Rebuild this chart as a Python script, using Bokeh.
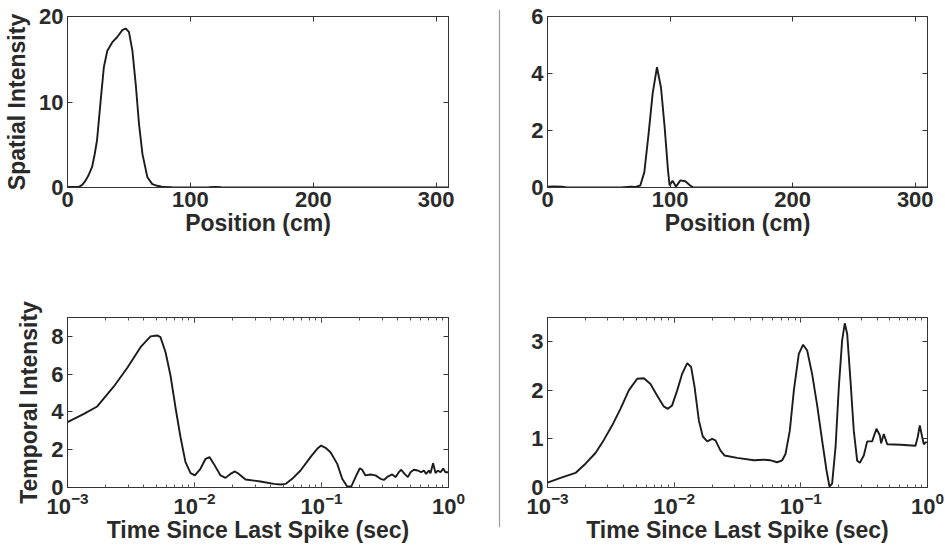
from bokeh.plotting import figure
from bokeh.layouts import row, column
from bokeh.models import Range1d, LinearAxis, LogAxis, FixedTicker, Span, CustomJSTickFormatter
from bokeh.embed import file_html
from bokeh.resources import INLINE

# ---------------- data ----------------
# Top-left: spatial intensity vs position (cm)
pos_a = [0, 5, 9, 12, 14.7, 17, 20, 22, 24, 27, 29.6, 32.4, 36.5, 40.5, 44.6, 47.3,
         50, 52.8, 55.5, 58.2, 61, 65, 69, 73, 75, 78, 85, 100, 115, 120, 125, 150,
         200, 250, 300, 310]
int_a = [0.05, 0.05, 0.05, 0.3, 0.8, 1.4, 2.4, 3.8, 5.5, 10.2, 14.1, 16.0, 17.0, 17.6,
         18.4, 18.6, 18.2, 16.0, 12.1, 7.4, 3.9, 1.2, 0.4, 0.2, 0.15, 0.05, 0.03, 0.02,
         0.03, 0.06, 0.03, 0.02, 0.02, 0.02, 0.02, 0.02]

# Top-right: spatial intensity vs position (cm)
pos_b = [0, 5, 12, 16, 30, 60, 65, 68, 72, 75.7, 79, 82.5, 85.8, 89.3, 92.6, 95.6,
         98.3, 99.6, 102, 104.8, 108.4, 112.4, 116.4, 119, 150, 200, 250, 310]
int_b = [0.03, 0.04, 0.03, 0.0, 0.0, 0.0, 0.02, 0.03, 0.02, 0.07, 0.54, 1.9, 3.3, 4.22,
         3.5, 2.1, 0.6, 0.07, 0.24, 0.03, 0.25, 0.22, 0.07, 0.0, 0.0, 0.0, 0.0, 0.0]

# Bottom-left: temporal intensity vs time since last spike (sec)
lag_c = [0.001, 0.001346, 0.001714, 0.002317, 0.002951, 0.003758, 0.004508, 0.005082,
         0.005395, 0.005916, 0.006471, 0.007079, 0.007762, 0.008492, 0.009311, 0.010069,
         0.011143, 0.012218, 0.013122, 0.014191, 0.016032, 0.017539, 0.019187, 0.020797,
         0.022336, 0.025235, 0.033113, 0.04217, 0.047534, 0.052119, 0.05875, 0.068391,
         0.081846, 0.09247, 0.099312, 0.10765, 0.11776, 0.13305, 0.14555, 0.15922,
         0.1714, 0.18535, 0.20045, 0.20893, 0.22182, 0.24322, 0.26607, 0.29174,
         0.30974, 0.33266, 0.36058, 0.38282, 0.40644, 0.42462, 0.45082, 0.47863,
         0.50234, 0.53333, 0.5728, 0.60954, 0.63973, 0.66681, 0.69984, 0.72111,
         0.75683, 0.79068, 0.82414, 0.86497, 0.90782, 0.94624, 1.0]
int_c = [3.46, 3.9, 4.29, 5.35, 6.33, 7.43, 8.0, 8.05, 7.96, 7.16, 5.93, 4.25, 2.66,
         1.34, 0.76, 0.64, 0.99, 1.52, 1.61, 1.25, 0.64, 0.51, 0.72, 0.85, 0.72, 0.42,
         0.32, 0.19, 0.16, 0.19, 0.46, 0.9, 1.61, 2.05, 2.22, 2.1, 1.87, 1.25, 0.46,
         0.05, 0.05, 0.55, 1.02, 0.94, 0.64, 0.69, 0.64, 0.46, 0.4, 0.58, 0.69, 0.55,
         0.81, 0.94, 0.72, 0.55, 0.81, 0.94, 0.9, 0.81, 0.9, 0.72, 0.9, 0.76, 1.29,
         0.76, 0.9, 0.81, 1.0, 0.81, 0.81]

# Bottom-right: temporal intensity vs time since last spike (sec)
lag_d = [0.001, 0.001268, 0.001663, 0.001995, 0.002393, 0.002786, 0.003243, 0.003767,
         0.004385, 0.005105, 0.005768, 0.006501, 0.007345, 0.008279, 0.008913, 0.009638,
         0.010568, 0.011561, 0.012677, 0.013614, 0.014488, 0.015668, 0.016827, 0.018239,
         0.019953, 0.021184, 0.023227, 0.024946, 0.031405, 0.04256, 0.05105, 0.057677,
         0.065013, 0.071285, 0.075683, 0.081846, 0.088105, 0.096383, 0.10423, 0.1122,
         0.12274, 0.13459, 0.14723, 0.15959, 0.16827, 0.1766, 0.18793, 0.19953, 0.21184,
         0.22233, 0.23227, 0.2466, 0.26182, 0.27861, 0.29242, 0.31405, 0.3342, 0.36559,
         0.39537, 0.42073, 0.43053, 0.45186, 0.48084, 0.61235, 0.80353, 0.83753,
         0.86896, 0.90782, 0.93541, 0.96383, 1.0]
int_d = [0.1, 0.2, 0.3, 0.49, 0.71, 0.98, 1.28, 1.62, 2.0, 2.24, 2.25, 2.13, 1.89, 1.67,
         1.62, 1.69, 2.0, 2.34, 2.56, 2.48, 2.07, 1.38, 1.05, 0.95, 1.0, 0.97, 0.76, 0.66,
         0.61, 0.56, 0.57, 0.56, 0.52, 0.56, 0.69, 1.17, 2.0, 2.75, 2.94, 2.82, 2.34, 1.69,
         0.97, 0.35, 0.02, 0.08, 0.83, 2.07, 3.03, 3.38, 3.16, 2.2, 1.17, 0.55, 0.51,
         0.66, 0.95, 0.95, 1.21, 1.07, 0.91, 1.1, 0.89, 0.88, 0.86, 1.04, 1.28, 1.04,
         0.89, 0.93, 0.93]

pos_ticks = [0, 100, 200, 300]
lag_ticks = [0.001, 0.01, 0.1, 1.0]
yticks_a = [0, 10, 20]
yticks_b = [0, 2, 4, 6]
yticks_c = [0, 2, 4, 6, 8]
yticks_d = [0, 1, 2, 3]

FONT = "Liberation Sans"
TXT = "#2a2a2a"
LINE = "#1c1c1c"


def style_axis(ax, ticks, log=False, labels=True):
    if not log:
        ax.ticker = FixedTicker(ticks=ticks)
        ax.minor_tick_line_color = None
    else:
        ax.ticker.num_minor_ticks = 10
        ax.minor_tick_line_color = "#555555"
        ax.minor_tick_in = 3
        ax.minor_tick_out = 0
    ax.axis_line_color = "#333333"
    ax.major_tick_line_color = "#333333"
    ax.major_tick_in = 5
    ax.major_tick_out = 0
    ax.major_label_text_font = FONT
    ax.major_label_text_font_style = "bold"
    ax.major_label_text_color = TXT
    if labels:
        ax.major_label_text_font_size = "22px"
    else:
        ax.formatter = CustomJSTickFormatter(code="return '';")
        ax.major_label_text_font_size = "2px"
        ax.major_label_standoff = 0
    ax.axis_label_text_font = FONT
    ax.axis_label_text_font_style = "bold"
    ax.axis_label_text_font_size = "23px"
    ax.axis_label_text_color = TXT


def make_panel(width, height, mb, xr, yr, xlog, xticks, yticks, xlabel, ylabel):
    p = figure(width=width, height=height,
               x_axis_type="log" if xlog else "linear",
               x_range=xr, y_range=yr,
               output_backend="svg", toolbar_location=None,
               min_border_left=mb[0], min_border_right=mb[1],
               min_border_top=mb[2], min_border_bottom=mb[3])
    p.grid.visible = False
    p.outline_line_color = "#333333"
    p.background_fill_color = "white"
    p.border_fill_color = "white"

    xa = p.xaxis[0]
    ya = p.yaxis[0]
    style_axis(xa, xticks, log=xlog)
    style_axis(ya, yticks)
    xa.major_label_standoff = 4
    ya.major_label_standoff = 4
    xa.axis_label = xlabel
    xa.axis_label_standoff = 0
    if ylabel:
        ya.axis_label = ylabel
        ya.axis_label_standoff = 6

    # mirrored axes (MATLAB-style box ticks)
    top = LogAxis() if xlog else LinearAxis()
    style_axis(top, xticks, log=xlog, labels=False)
    p.add_layout(top, "above")
    right = LinearAxis()
    style_axis(right, yticks, labels=False)
    p.add_layout(right, "right")
    return p


p1 = make_panel(490, 280, (67, 42, 16, 93), Range1d(0, 310), Range1d(0, 20), False,
                pos_ticks, yticks_a, "Position (cm)", "Spatial Intensity")
p1.line(pos_a, int_a, line_color=LINE, line_width=1.9)

p2 = make_panel(437, 280, (39, 18, 16, 93), Range1d(0, 310), Range1d(0, 6), False,
                pos_ticks, yticks_b, "Position (cm)", None)
p2.line(pos_b, int_b, line_color=LINE, line_width=1.9)

p3 = make_panel(490, 275, (67, 42, 37, 68), Range1d(0.001, 1.0), Range1d(0, 9), True,
                lag_ticks, yticks_c, "Time Since Last Spike (sec)", "Temporal Intensity")
p3.line(lag_c, int_c, line_color=LINE, line_width=1.9)

p4 = make_panel(437, 275, (39, 18, 37, 68), Range1d(0.001, 1.0), Range1d(0, 3.5), True,
                lag_ticks, yticks_d, "Time Since Last Spike (sec)", None)
p4.line(lag_d, int_d, line_color=LINE, line_width=1.9)

# vertical divider between the two columns
div = figure(width=18, height=555, x_range=Range1d(0, 1), y_range=Range1d(0, 1),
             output_backend="svg", toolbar_location=None,
             min_border_left=0, min_border_right=0, min_border_top=9, min_border_bottom=28)
div.axis.visible = False
div.grid.visible = False
div.outline_line_color = None
div.add_layout(Span(location=0.5, dimension="height", line_color="#9a9a9a", line_width=1.2))

layout = row(column(p1, p3), div, column(p2, p4))

open("out.html", "w").write(file_html(layout, INLINE))
